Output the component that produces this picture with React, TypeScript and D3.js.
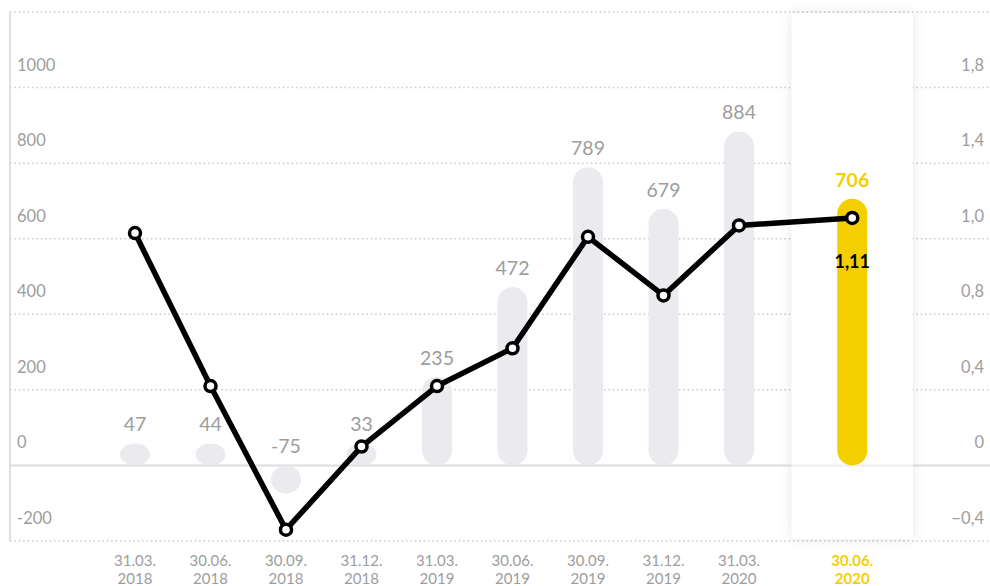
import React from "react";
import * as d3 from "d3";

const categories = [
  "31.03. 2018", "30.06. 2018", "30.09. 2018", "31.12. 2018",
  "31.03. 2019", "30.06. 2019", "30.09. 2019", "31.12. 2019",
  "31.03. 2020", "30.06. 2020",
];
const barValues = [47, 44, -75, 33, 235, 472, 789, 679, 884, 706];
const ratioValues = [1.03, 0.42, -0.34, 0.1, 0.42, 0.62, 1.01, 0.85, 1.07, 1.11];
const leftTicks = [-200, 0, 200, 400, 600, 800, 1000, 1200];
const rightTicks = [-0.4, 0, 0.4, 0.8, 1.0, 1.4, 1.8, 2.2];
const highlightIndex = 9;

const W = 990;
const H = 586;
const FONT = "Lato, 'Open Sans', sans-serif";
const GREY_TEXT = "#9d9d9d";
const YELLOW = "#f4cf00";
const BAR_GREY = "#ebebef";

export default function App() {
  const yL = d3.scaleLinear().domain([-200, 1200]).range([541, 12]);
  const gridYs = leftTicks.map((t) => yL(t));
  const yR = d3.scaleLinear().domain(rightTicks).range(gridYs);
  const x = d3.scaleLinear().domain([0, 9]).range([135, 814.5]);
  const xi = (i: number) => x(i + (i === highlightIndex ? 0.5 : 0));
  const zero = yL(0);
  const barW = 30;
  const minH = 22;
  const fmtR = (v: number) => d3.format(".1f")(v).replace(".", ",");
  const fmtRatio = (v: number) => d3.format(".2f")(v).replace(".", ",");

  const line = d3
    .line<number>()
    .x((_, i) => xi(i))
    .y((d) => yR(d));

  const colX = xi(highlightIndex);
  const colW = 121;

  return (
    <svg
      width={W}
      height={H}
      style={{ position: "absolute", left: 0, top: 0, background: "#fff" }}
      fontFamily={FONT}
    >
      <defs>
        <filter id="shadow" x="-30%" y="-10%" width="160%" height="120%">
          <feDropShadow dx="0" dy="0" stdDeviation="6" floodColor="#000" floodOpacity="0.10" />
        </filter>
      </defs>

      {/* gridlines */}
      {leftTicks.map((t) =>
        t === 0 ? null : (
          <line
            key={"g" + t}
            x1={10}
            x2={W}
            y1={yL(t)}
            y2={yL(t)}
            stroke="#c9c9c9"
            strokeWidth={1.5}
            strokeDasharray="1.5 2.9"
          />
        )
      )}
      {/* zero line */}
      <line x1={10} x2={W} y1={zero} y2={zero} stroke="#dedede" strokeWidth={2} />

      {/* highlighted column */}
      <rect
        x={colX - colW / 2}
        y={13}
        width={colW}
        height={526}
        fill="#fff"
        filter="url(#shadow)"
      />
      <line
        x1={colX - colW / 2}
        x2={colX + colW / 2}
        y1={zero}
        y2={zero}
        stroke="#efefef"
        strokeWidth={2}
      />

      {/* left axis line */}
      <line x1={10} x2={10} y1={11} y2={541} stroke="#e0e0e0" strokeWidth={2} />

      {/* left tick labels */}
      {leftTicks.slice(0, -1).map((t) => (
        <text key={"l" + t} x={17} y={yL(t) - 17} fontSize={16.5} fill={GREY_TEXT}>
          {t}
        </text>
      ))}
      {/* right tick labels */}
      {rightTicks.slice(0, -1).map((t, i) => (
        <text
          key={"r" + t}
          x={984}
          y={gridYs[i] - 17}
          fontSize={16.5}
          fill={GREY_TEXT}
          textAnchor="end"
        >
          {t === 0 ? "0" : fmtR(t)}
        </text>
      ))}

      {/* bars */}
      {barValues.map((v, i) => {
        const cx = xi(i);
        let y0: number, h: number;
        if (v >= 0) {
          h = Math.max(zero - yL(v), minH);
          y0 = zero - h;
        } else {
          h = Math.max(yL(v) - zero, minH);
          y0 = zero;
        }
        const hl = i === highlightIndex;
        return (
          <rect
            key={"b" + i}
            x={cx - barW / 2}
            y={y0}
            width={barW}
            height={h}
            rx={15}
            ry={Math.min(15, h / 2)}
            fill={hl ? YELLOW : BAR_GREY}
          />
        );
      })}

      {/* bar value labels */}
      {barValues.map((v, i) => {
        const cx = xi(i);
        const top = v >= 0 ? zero - Math.max(zero - yL(v), minH) : zero;
        const hl = i === highlightIndex;
        return (
          <text
            key={"bv" + i}
            x={cx}
            y={top - 12}
            fontSize={19.5}
            textAnchor="middle"
            fill={hl ? YELLOW : GREY_TEXT}
            fontWeight={hl ? 700 : 400}
          >
            {v}
          </text>
        );
      })}

      {/* line */}
      <path d={line(ratioValues) || ""} fill="none" stroke="#000" strokeWidth={5.5} strokeLinejoin="round" />
      {ratioValues.map((v, i) => (
        <circle key={"p" + i} cx={xi(i)} cy={yR(v)} r={5.5} fill="#fff" stroke="#000" strokeWidth={3.5} />
      ))}
      <text
        x={xi(highlightIndex)}
        y={yR(ratioValues[highlightIndex]) + 50}
        fontSize={18}
        fontWeight={700}
        textAnchor="middle"
        fill="#000"
      >
        {fmtRatio(ratioValues[highlightIndex])}
      </text>

      {/* x labels */}
      {categories.map((c, i) => {
        const [d, yr] = c.split(" ");
        const hl = i === highlightIndex;
        return (
          <g key={"x" + i}>
            <text
              x={xi(i)}
              y={566}
              textAnchor="middle"
              fontSize={15}
              fill={hl ? YELLOW : GREY_TEXT}
              fontWeight={hl ? 700 : 400}
            >
              {d}
            </text>
            <text
              x={xi(i)}
              y={584}
              textAnchor="middle"
              fontSize={15}
              fill={hl ? YELLOW : GREY_TEXT}
              fontWeight={hl ? 700 : 400}
            >
              {yr}
            </text>
          </g>
        );
      })}
    </svg>
  );
}
